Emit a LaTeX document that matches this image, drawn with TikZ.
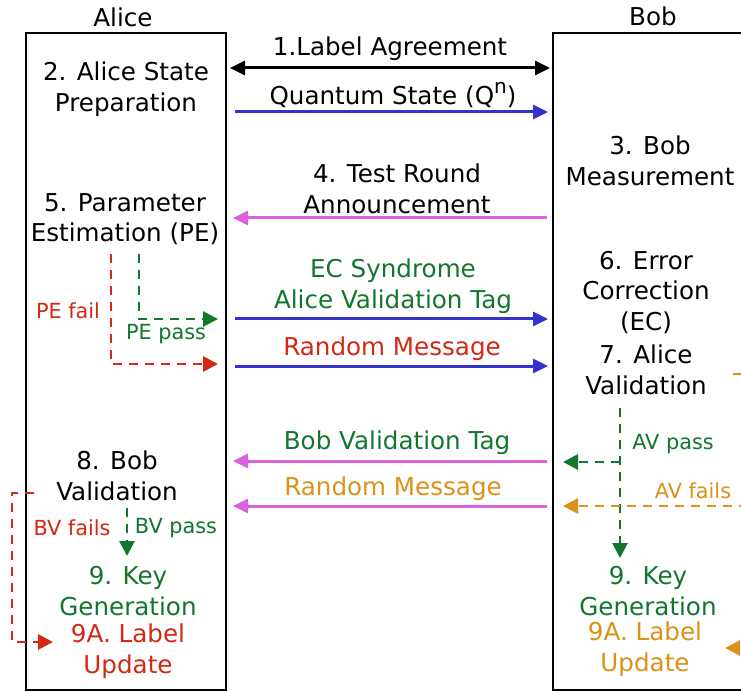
\documentclass[tikz,border=0pt]{standalone}
\usepackage{fontspec}
\setmainfont{DejaVu Sans}
\usetikzlibrary{arrows.meta}
\definecolor{cblue}{HTML}{3333CC}
\definecolor{cmag}{HTML}{DD60DD}
\definecolor{cgreen}{HTML}{12772A}
\definecolor{cred}{HTML}{D22814}
\definecolor{corange}{HTML}{DC9119}
\tikzset{
  big/.style={font=\fontsize{24.6}{30.5}\selectfont, align=center, inner sep=0pt},
  small/.style={font=\fontsize{20.8}{24}\selectfont, inner sep=0pt},
  party/.style={draw=black, line width=2.2pt},
  msg/.style={line width=3pt, -{Triangle[length=15pt,width=14pt]}},
  flow/.style={line width=2.8pt, dash pattern=on 9pt off 7pt, -{Triangle[length=15pt,width=15pt]}},
}
\begin{document}
\begin{tikzpicture}[x=1pt,y=-1pt]
\useasboundingbox (0,0) rectangle (741,692);
\clip (0,0) rectangle (741,692);
\fill[white] (0,0) rectangle (741,692);
% titles
\node[big] (aliceT) at (123,17) {Alice};
\node[big] (bobT) at (653,16) {Bob};
% boxes
\draw[party] (26,33) rectangle (226,690);
\draw[party] (553,33) rectangle (800,690);
% alice side text
\node[big] (prep) at (126,89) {2. Alice State\\Preparation};
\node[big] (pe) at (125,219) {5. Parameter\\Estimation (PE)};
\node[big] (bv) at (117,476) {8. Bob\\Validation};
\node[big, text=cgreen] (akg) at (128,591) {9. Key\\Generation};
\node[big, text=cred] (alu) at (128,651) {9A. Label\\Update};
% bob side text
\node[big] (meas) at (650,161) {3. Bob\\Measurement};
\node[big] (ec) at (646,292) {6. Error\\Correction\\(EC)};
\node[big] (av) at (646,370) {7. Alice\\Validation};
\node[big, text=cgreen] (bkg) at (648,591) {9. Key\\Generation};
\node[big, text=corange] (blu) at (645,649) {9A. Label\\Update};
% message labels
\node[big] (m1) at (390,49) {1.Label Agreement};
\node[big] (m2) at (393,95) {Quantum State (Q\raisebox{0.42em}{\fontsize{20}{20}\selectfont n})};
\node[big] (m3) at (397,189) {4. Test Round\\Announcement};
\node[big, text=cgreen] (m4) at (393,286) {EC Syndrome\\Alice Validation Tag};
\node[big, text=cred] (m5) at (392,349) {Random Message};
\node[big, text=cgreen] (m6) at (397,443) {Bob Validation Tag};
\node[big, text=corange] (m7) at (393,489) {Random Message};
% message endpoints
\coordinate (a1) at (230,68);  \coordinate (b1) at (550,68);
\coordinate (a2) at (235,112); \coordinate (b2) at (548,112);
\coordinate (a3) at (233,218); \coordinate (b3) at (547,218);
\coordinate (a4) at (235,319); \coordinate (b4) at (548,319);
\coordinate (a5) at (235,366); \coordinate (b5) at (548,366);
\coordinate (a6) at (233,461); \coordinate (b6) at (547,461);
\coordinate (a7) at (233,506); \coordinate (b7) at (547,506);
\draw[line width=3pt, {Triangle[length=15pt,width=14pt]}-{Triangle[length=15pt,width=14pt]}] (a1) -- (b1);
\draw[msg, cblue] (a2) -- (b2);
\draw[msg, cmag] (b3) -- (a3);
\draw[msg, cblue] (a4) -- (b4);
\draw[msg, cblue] (a5) -- (b5);
\draw[msg, cmag] (b6) -- (a6);
\draw[msg, cmag] (b7) -- (a7);
% PE branches
\coordinate (pef) at (111,254); \coordinate (pefe) at (218,364);
\coordinate (pep) at (139,254); \coordinate (pepe) at (218,319);
\draw[flow, cred] (pef) |- (pefe);
\draw[flow, cgreen] (pep) |- (pepe);
\node[small, text=cred] (pefl) at (68,311) {PE fail};
\node[small, text=cgreen] (pepl) at (166,334) {PE pass};
% BV branches
\coordinate (bvf) at (34,493); \coordinate (bvfc) at (12,493); \coordinate (bvfe) at (53,642);
\draw[flow, cred] (bvf) -- (bvfc) |- (bvfe);
\node[small, text=cred] (bvfl) at (72,528) {BV fails};
\coordinate (bvp) at (127,508); \coordinate (bvpe) at (127,556);
\draw[flow, cgreen] (bvp) -- (bvpe);
\node[small, text=cgreen] (bvpl) at (176,528) {BV pass};
% AV branches
\coordinate (avp) at (620,408); \coordinate (avpe) at (620,558);
\coordinate (avj) at (620,462); \coordinate (avje) at (563,462);
\draw[flow, cgreen] (avp) -- (avpe);
\draw[flow, cgreen] (avj) -- (avje);
\node[small, text=cgreen] (avpl) at (673,444) {AV pass};
\coordinate (avf) at (780,506); \coordinate (avfe) at (563,506);
\draw[flow, corange] (avf) -- (avfe);
\node[small, text=corange] (avfl) at (693,491) {AV fails};
% partial orange path at right edge
\coordinate (ors) at (733,374); \coordinate (orc) at (790,374); \coordinate (ore) at (725,648);
\draw[flow, corange] (ors) -- (orc) |- (ore);
\end{tikzpicture}
\end{document}
